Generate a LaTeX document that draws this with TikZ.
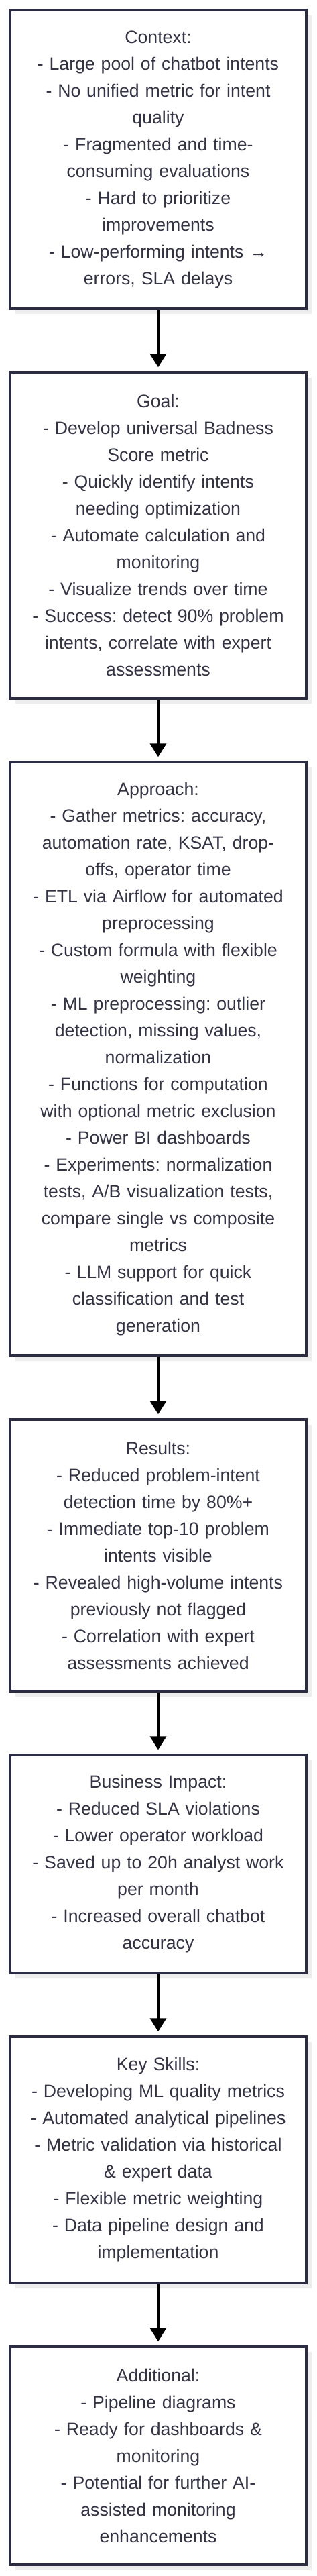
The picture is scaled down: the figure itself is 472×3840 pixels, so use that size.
\documentclass[tikz,border=0pt]{standalone}
\usepackage{fontspec}
\setmainfont{Liberation Sans}
\usetikzlibrary{arrows.meta,positioning,shadows}
\definecolor{boxline}{HTML}{2B2B42}
\definecolor{boxtext}{HTML}{333344}
\definecolor{shade}{HTML}{EDEDED}
\frenchspacing

\begin{document}
\begin{tikzpicture}[x=1pt,y=1pt,>={Triangle[length=20pt,width=24pt]},shorten >=6pt,node distance=91pt]
	\useasboundingbox (0,0) rectangle (472,-3840);
	\tikzset{every node/.style={rectangle,draw=boxline,line width=4pt,fill=white,text=boxtext,
		font=\fontsize{26.67pt}{40pt}\selectfont,align=center,text width=410pt,inner xsep=0pt,
		minimum width=441.4pt,drop shadow={shadow xshift=8pt,shadow yshift=-8pt,fill=shade,opacity=1}}}
	\node[anchor=north,minimum height=445pt] (A) at (236,-13.3) {Context:\\- Large pool of chatbot intents\\- No unified metric for intent\\quality\\- Fragmented and time-\\consuming evaluations\\- Hard to prioritize\\improvements\\- Low-performing intents →\\errors, SLA delays};
	\node[below=of A,minimum height=486pt] (B) {Goal:\\- Develop universal Badness\\Score metric\\- Quickly identify intents\\needing optimization\\- Automate calculation and\\monitoring\\- Visualize trends over time\\- Success: detect 90\% problem\\intents, correlate with expert\\assessments};
	\node[below=of B,minimum height=885pt] (C) {Approach:\\- Gather metrics: accuracy,\\automation rate, KSAT, drop-\\offs, operator time\\- ETL via Airflow for automated\\preprocessing\\- Custom formula with flexible\\weighting\\- ML preprocessing: outlier\\detection, missing values,\\normalization\\- Functions for computation\\with optional metric exclusion\\- Power BI dashboards\\- Experiments: normalization\\tests, A/B visualization tests,\\compare single vs composite\\metrics\\- LLM support for quick\\classification and test\\generation};
	\node[below=of C,minimum height=405pt] (D) {Results:\\- Reduced problem-intent\\detection time by 80\%+\\- Immediate top-10 problem\\intents visible\\- Revealed high-volume intents\\previously not flagged\\- Correlation with expert\\assessments achieved};
	\node[below=of D,minimum height=325pt] (E) {Business Impact:\\- Reduced SLA violations\\- Lower operator workload\\- Saved up to 20h analyst work\\per month\\- Increased overall chatbot\\accuracy};
	\node[below=of E,minimum height=367pt] (F) {Key Skills:\\- Developing ML quality metrics\\- Automated analytical pipelines\\- Metric validation via historical\\\& expert data\\- Flexible metric weighting\\- Data pipeline design and\\implementation};
	\node[below=of F,minimum height=325pt] (G) {Additional:\\- Pipeline diagrams\\- Ready for dashboards \&\\monitoring\\- Potential for further AI-\\assisted monitoring\\enhancements};
	\tikzset{flow/.style={->,draw=black,line width=4pt}}
	\path
	(A) edge [flow] (B)
	(B) edge [flow] (C)
	(C) edge [flow] (D)
	(D) edge [flow] (E)
	(E) edge [flow] (F)
	(F) edge [flow] (G);
\end{tikzpicture}
\end{document}
